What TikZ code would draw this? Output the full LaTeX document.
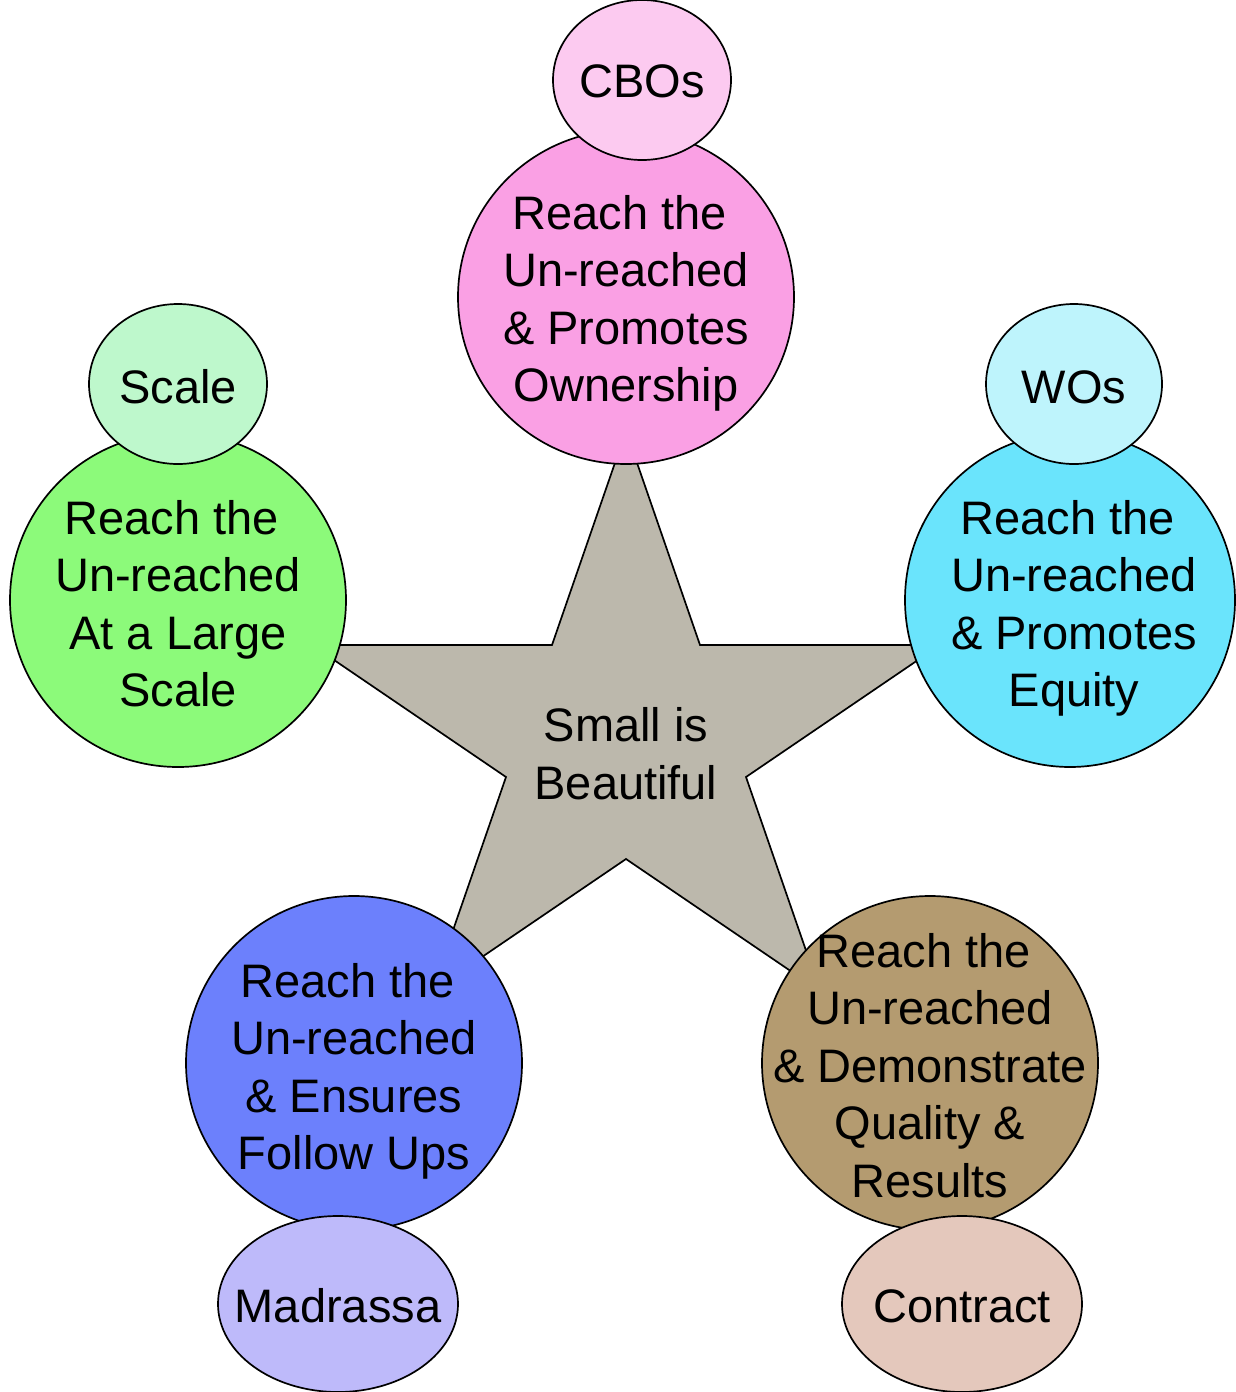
\documentclass[tikz,border=0pt]{standalone}
\usepackage{fontspec}
\setmainfont{Liberation Sans}
\usetikzlibrary{shapes.geometric}
\definecolor{starfill}{RGB}{188,184,172}
\definecolor{pinkmain}{RGB}{250,160,228}
\definecolor{pinksmall}{RGB}{252,202,240}
\definecolor{greenmain}{RGB}{140,250,122}
\definecolor{greensmall}{RGB}{190,248,204}
\definecolor{cyanmain}{RGB}{106,228,252}
\definecolor{cyansmall}{RGB}{190,244,252}
\definecolor{bluemain}{RGB}{108,128,252}
\definecolor{bluesmall}{RGB}{190,186,250}
\definecolor{brownmain}{RGB}{180,155,112}
\definecolor{brownsmall}{RGB}{228,200,188}
\begin{document}
\begin{tikzpicture}[x=1pt,y=-1pt,
  bubble/.style={ellipse, draw=black, line width=1.7pt, inner sep=0pt},
  bigbubble/.style={bubble, minimum width=336pt, minimum height=334pt},
  topbubble/.style={bubble, minimum width=178pt, minimum height=160pt},
  lowbubble/.style={bubble, minimum width=240pt, minimum height=176pt},
  lbl/.style={anchor=base, align=center, inner sep=0pt, font=\fontsize{47}{57.5}\selectfont},
  starshape/.style={fill=starfill, draw=black, line width=1.7pt}]
\useasboundingbox (0,0) rectangle (1236,1392);
% star
\coordinate (s1) at (626,431);
\coordinate (s2) at (700,645);
\coordinate (s3) at (940,645);
\coordinate (s4) at (746,777);
\coordinate (s5) at (820,991);
\coordinate (s6) at (626,859);
\coordinate (s7) at (432,991);
\coordinate (s8) at (506,777);
\coordinate (s9) at (312,645);
\coordinate (s10) at (552,645);
\draw[starshape] (s1) -- (s2) -- (s3) -- (s4) -- (s5) -- (s6) -- (s7) -- (s8) -- (s9) -- (s10) -- cycle;
\node[lbl] (startext) at (626,799) {Small is\\Beautiful};
% main circles
\node[bigbubble, fill=pinkmain] (pink) at (626,297) {};
\node[bigbubble, fill=greenmain] (green) at (178,600) {};
\node[bigbubble, fill=cyanmain, minimum width=330pt] (cyan) at (1070,600) {};
\node[bigbubble, fill=bluemain] (blue) at (354,1063) {};
\node[bigbubble, fill=brownmain] (brown) at (930,1063) {};
% small circles
\node[topbubble, fill=pinksmall] (cbo) at (642,80) {};
\node[topbubble, fill=greensmall] (scale) at (178,384) {};
\node[topbubble, fill=cyansmall, minimum width=176pt] (wos) at (1074,384) {};
\node[lowbubble, fill=bluesmall] (madrassa) at (338,1304) {};
\node[lowbubble, fill=brownsmall] (contract) at (962,1304) {};
% texts (base anchor = baseline of last line)
\node[lbl] (pinktext) at (626,401.5) {Reach the\hspace*{0.278em}\\Un-reached\\\& Promotes\\Ownership};
\node[lbl] (greentext) at (178,706.5) {Reach the\hspace*{0.278em}\\Un-reached\\At a Large\hspace*{0.278em}\\Scale};
\node[lbl] (cyantext) at (1074,706.5) {Reach the\hspace*{0.278em}\\Un-reached\\\& Promotes\\Equity};
\node[lbl] (bluetext) at (354,1169.5) {Reach the\hspace*{0.278em}\\Un-reached\\\& Ensures\\Follow Ups};
\node[lbl] (browntext) at (930,1197) {Reach the\hspace*{0.278em}\\Un-reached\\\& Demonstrate\\Quality \&\\Results};
\node[lbl] (cbotext) at (642,97) {CBOs};
\node[lbl] (scaletext) at (178,403) {Scale};
\node[lbl] (wostext) at (1074,403) {WOs};
\node[lbl] (madrassatext) at (338,1322) {Madrassa};
\node[lbl] (contracttext) at (962,1322) {Contract};
\end{tikzpicture}
\end{document}
